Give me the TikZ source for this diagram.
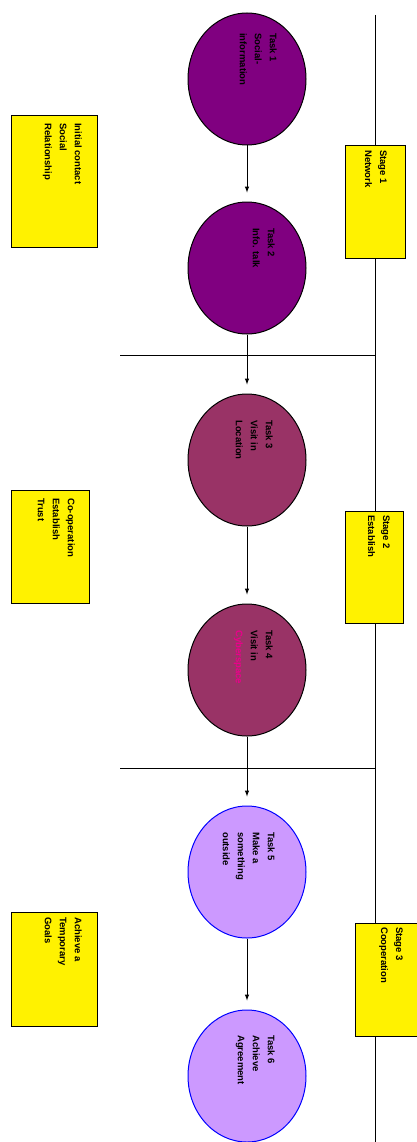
\documentclass[tikz,border=0pt]{standalone}
\usepackage{fontspec}
\setsansfont{Liberation Sans}
\usetikzlibrary{shapes.geometric}
\begin{document}
\begin{tikzpicture}[x=1pt,y=-1pt,
  task/.style={ellipse, draw=black, line width=1pt, minimum width=118pt, minimum height=132pt, inner sep=0pt},
  taskA/.style={task, fill={rgb,255:red,128;green,0;blue,128}},
  taskB/.style={task, fill={rgb,255:red,153;green,51;blue,102}},
  taskC/.style={task, draw=blue, fill={rgb,255:red,204;green,153;blue,255}},
  note/.style={draw=black, line width=1.2pt, fill=yellow, inner sep=0pt, anchor=north west},
  lbl/.style={rotate=-90, anchor=north west, inner sep=0pt, font=\sffamily\bfseries\fontsize{9.5}{15}\selectfont, align=left, text=black},
  flow/.style={-latex, line width=1pt, shorten >=9pt},
  rule/.style={line width=1pt}]
\useasboundingbox (0,0) rectangle (416,1142);
\fill[white] (0,0) rectangle (416,1142);

% time line and stage separators
\coordinate (top) at (375,15);
\coordinate (bot) at (375,1142);
\draw[rule] (top) -- (bot);
\coordinate (s1a) at (120,355);
\coordinate (s1b) at (375,355);
\coordinate (s2a) at (120,768);
\coordinate (s2b) at (375,768);
\draw[rule] (s1a) -- (s1b);
\draw[rule] (s2a) -- (s2b);

% tasks
\node[taskA] (t1) at (247,79) {};
\node[taskA] (t2) at (247,268) {};
\node[taskB] (t3) at (247,460) {};
\node[taskB] (t4) at (247,670) {};
\node[taskC] (t5) at (247,872) {};
\node[taskC] (t6) at (247,1076) {};

\node[lbl] (l1) at (277,33) {Task 1\\Social-\\information};
\node[lbl] (l2) at (275,228) {Task 2\\Info. talk};
\node[lbl] (l3) at (273,420) {Task 3\\Visit in\\Location};
\node[lbl] (l4) at (273,630) {Task 4\\Visit in\\\textcolor{magenta}{Cyberspace}};
\node[lbl] (l5) at (275,832) {Task 5\\Make a\\something\\outside};
\node[lbl] (l6) at (275,1035) {Task 6\\Achieve\\Agreement};

\draw[flow] (t1) -- (t2);
\draw[flow] (t2) -- (t3);
\draw[flow] (t3) -- (t4);
\draw[flow] (t4) -- (t5);
\draw[flow] (t5) -- (t6);

% notes on the left
\node[note, minimum width=86pt, minimum height=132pt] (n1) at (11,115) {};
\node[lbl] (m1) at (82,123) {Initial contact\\Social\\Relationship};
\node[note, minimum width=78pt, minimum height=113pt] (n2) at (11,490) {};
\node[lbl] (m2) at (75,498) {Co-operation\\Establish\\Trust};
\node[note, minimum width=86pt, minimum height=114pt] (n3) at (11,912) {};
\node[lbl] (m3) at (82,917) {Achieve a\\Temporary\\Goals};

% stage boxes on the time line
\node[note, minimum width=60pt, minimum height=113pt] (st1) at (345,145) {};
\node[lbl] (g1) at (387,150) {Stage 1\\Network};
\node[note, minimum width=58pt, minimum height=112pt] (st2) at (345,511) {};
\node[lbl] (g2) at (390,515) {Stage 2\\Establish};
\node[note, minimum width=62pt, minimum height=113pt] (st3) at (355,923) {};
\node[lbl] (g3) at (403,927) {Stage 3\\Cooperation};
\end{tikzpicture}
\end{document}
